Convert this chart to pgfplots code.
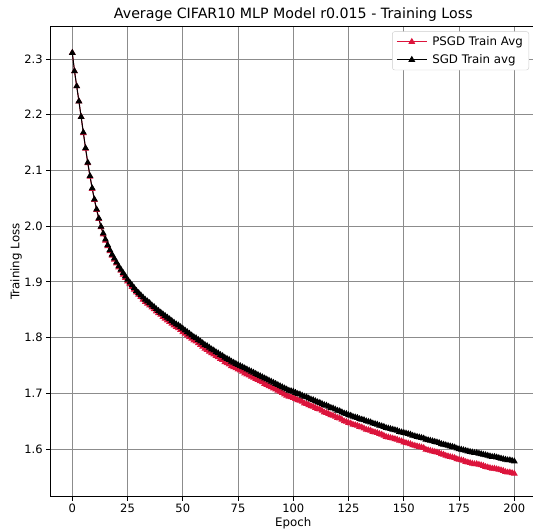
\documentclass[border=0pt]{standalone}
\usepackage{fontspec}
\setmainfont{DejaVu Sans}
\usepackage{pgfplots}
\usepackage{pgfplotstable}
\pgfplotsset{compat=1.18}
\definecolor{psgdred}{RGB}{220,20,60}
\definecolor{gridgray}{RGB}{140,140,140}
\pgfplotstableread{
epoch sgd psgd
0 2.311 2.311
1 2.278 2.278
2 2.251 2.251
3 2.224 2.224
4 2.196 2.196
5 2.168 2.167
6 2.140 2.139
7 2.114 2.113
8 2.090 2.089
9 2.068 2.067
10 2.048 2.047
11 2.030 2.029
12 2.014 2.013
13 1.999 1.998
14 1.987 1.985
15 1.976 1.974
16 1.966 1.964
17 1.957 1.955
18 1.949 1.947
19 1.942 1.940
20 1.935 1.933
21 1.928 1.926
22 1.922 1.920
23 1.916 1.913
24 1.910 1.907
25 1.904 1.901
26 1.899 1.896
27 1.894 1.891
28 1.889 1.886
29 1.884 1.881
30 1.880 1.877
31 1.876 1.873
32 1.872 1.868
33 1.868 1.864
34 1.865 1.861
35 1.862 1.858
36 1.858 1.854
37 1.855 1.851
38 1.851 1.847
39 1.848 1.844
40 1.845 1.841
41 1.842 1.837
42 1.839 1.834
43 1.836 1.831
44 1.833 1.828
45 1.830 1.825
46 1.827 1.822
47 1.824 1.819
48 1.822 1.817
49 1.819 1.814
50 1.816 1.810
51 1.813 1.807
52 1.810 1.804
53 1.807 1.801
54 1.804 1.798
55 1.801 1.795
56 1.799 1.793
57 1.796 1.790
58 1.793 1.787
59 1.790 1.784
60 1.787 1.780
61 1.785 1.778
62 1.782 1.775
63 1.779 1.772
64 1.777 1.770
65 1.774 1.767
66 1.772 1.765
67 1.769 1.762
68 1.767 1.760
69 1.764 1.756
70 1.762 1.754
71 1.760 1.752
72 1.757 1.749
73 1.755 1.747
74 1.753 1.745
75 1.751 1.743
76 1.749 1.741
77 1.747 1.739
78 1.745 1.736
79 1.743 1.734
80 1.741 1.732
81 1.739 1.730
82 1.737 1.728
83 1.735 1.726
84 1.733 1.724
85 1.731 1.722
86 1.729 1.720
87 1.727 1.717
88 1.725 1.715
89 1.723 1.713
90 1.721 1.711
91 1.719 1.709
92 1.717 1.707
93 1.715 1.705
94 1.713 1.703
95 1.711 1.701
96 1.709 1.698
97 1.707 1.696
98 1.705 1.694
99 1.704 1.693
100 1.703 1.692
101 1.701 1.690
102 1.699 1.688
103 1.698 1.687
104 1.696 1.685
105 1.694 1.682
106 1.693 1.681
107 1.691 1.679
108 1.689 1.677
109 1.688 1.676
110 1.686 1.674
111 1.684 1.672
112 1.683 1.671
113 1.681 1.669
114 1.679 1.666
115 1.678 1.665
116 1.676 1.663
117 1.674 1.661
118 1.673 1.660
119 1.671 1.658
120 1.669 1.656
121 1.668 1.655
122 1.666 1.653
123 1.664 1.650
124 1.663 1.649
125 1.661 1.647
126 1.660 1.646
127 1.658 1.644
128 1.657 1.643
129 1.656 1.642
130 1.654 1.640
131 1.653 1.639
132 1.652 1.637
133 1.650 1.635
134 1.649 1.634
135 1.648 1.633
136 1.646 1.631
137 1.645 1.630
138 1.644 1.629
139 1.642 1.627
140 1.641 1.626
141 1.640 1.624
142 1.638 1.622
143 1.637 1.621
144 1.636 1.620
145 1.635 1.619
146 1.634 1.618
147 1.633 1.617
148 1.631 1.615
149 1.630 1.614
150 1.629 1.612
151 1.628 1.611
152 1.627 1.610
153 1.626 1.609
154 1.624 1.607
155 1.623 1.606
156 1.622 1.605
157 1.621 1.604
158 1.620 1.603
159 1.619 1.602
160 1.617 1.599
161 1.616 1.598
162 1.615 1.597
163 1.614 1.596
164 1.613 1.595
165 1.612 1.594
166 1.611 1.593
167 1.609 1.591
168 1.608 1.590
169 1.607 1.588
170 1.606 1.587
171 1.605 1.586
172 1.604 1.585
173 1.603 1.584
174 1.601 1.582
175 1.600 1.581
176 1.599 1.580
177 1.598 1.579
178 1.597 1.577
179 1.596 1.576
180 1.595 1.575
181 1.594 1.574
182 1.593 1.573
183 1.593 1.573
184 1.592 1.572
185 1.591 1.571
186 1.590 1.570
187 1.589 1.568
188 1.588 1.567
189 1.587 1.566
190 1.586 1.565
191 1.586 1.565
192 1.585 1.564
193 1.584 1.563
194 1.583 1.562
195 1.582 1.561
196 1.581 1.559
197 1.580 1.558
198 1.580 1.558
199 1.579 1.557
200 1.578 1.556
}\lossdata
\begin{document}
\begin{tikzpicture}
\begin{axis}[
  at={(0pt,0pt)}, anchor=south west,
  width=486.2pt, height=470.3pt, scale only axis,
  xmin=-10, xmax=210, ymin=1.5145, ymax=2.3584,
  xtick={0,25,50,75,100,125,150,175,200},
  ytick={1.6,1.7,1.8,1.9,2.0,2.1,2.2,2.3},
  yticklabel style={/pgf/number format/.cd, fixed, fixed zerofill, precision=1},
  /pgf/number format/assume math mode=true,
  tick label style={font=\fontsize{11.5}{13}\selectfont},
  tick align=outside, tick pos=left,
  major tick length=4pt,
  every tick/.style={black, line width=0.8pt},
  axis line style={black, line width=0.8pt},
  grid=major,
  major grid style={gridgray, line width=0.8pt},
  title={Average CIFAR10 MLP Model r0.015 - Training Loss},
  title style={font=\fontsize{14.2}{16}\selectfont, at={(axis description cs:0.5,1.0045)}, anchor=base},
  xlabel={Epoch},
  xlabel style={font=\fontsize{11.8}{13}\selectfont, at={(axis description cs:0.5,-0.0638)}, anchor=base},
  ylabel={Training Loss},
  ylabel style={font=\fontsize{11.8}{13}\selectfont, at={(axis description cs:-0.0636,0.5)}, anchor=base},
  legend style={at={(axis description cs:0.9848,0.9894)}, anchor=north east,
    font=\fontsize{11.8}{13}\selectfont, draw={rgb,255:red,204;green,204;blue,204},
    rounded corners=2.5pt, inner xsep=4pt, inner ysep=3pt, row sep=3.5pt,
    cells={anchor=west},
    /tikz/every odd column/.append style={column sep=3pt}},
  legend image code/.code={\draw[mark repeat=2,mark phase=2] plot coordinates {(0pt,0pt) (15pt,0pt) (30pt,0pt)};},
]
\addplot[psgdred, line width=1pt, mark=triangle*, mark size=3pt] table[x=epoch, y=psgd] {\lossdata};
\addlegendentry{PSGD Train Avg}
\addplot[black, line width=1pt, mark=triangle*, mark size=3pt] table[x=epoch, y=sgd] {\lossdata};
\addlegendentry{SGD Train avg}
\end{axis}
\pgfresetboundingbox
\useasboundingbox (-50.2pt,-32pt) rectangle (482.8pt,496.7pt);
\end{tikzpicture}
\end{document}
